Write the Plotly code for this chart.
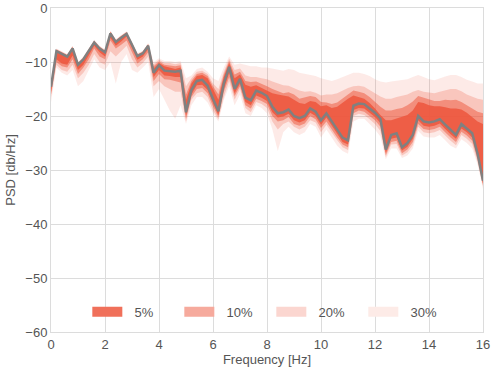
import plotly.graph_objects as go

freq = [round(0.2 * i, 1) for i in range(81)]

psd = [-14.6, -8.0, -8.5, -9.0, -7.5, -10.5, -9.5, -8.0, -6.4, -7.5,
       -8.2, -4.7, -6.3, -5.5, -4.8, -6.8, -8.9, -8.4, -7.0, -12.0,
       -10.6, -11.6, -11.7, -11.8, -11.6, -19.3, -15.2, -13.5, -13.3, -14.4,
       -16.8, -19.1, -14.0, -10.9, -15.0, -13.1, -16.6, -17.1, -15.3, -15.7,
       -16.3, -18.3, -19.5, -19.3, -18.8, -20.0, -20.4, -20.0, -18.6, -19.2,
       -20.8, -19.5, -21.0, -22.5, -24.0, -24.5, -18.1, -17.7, -17.8, -18.6,
       -19.4, -20.5, -26.2, -23.5, -23.2, -25.8, -25.0, -23.5, -20.0, -21.0,
       -21.2, -21.0, -20.6, -21.6, -22.6, -23.5, -21.5, -22.3, -23.2, -27.0,
       -32.0]

# Band bounds (dB)
up5 = [-14.4, -7.8, -8.3, -8.8, -7.3, -10.3, -9.3, -7.8, -6.2, -7.3,
       -8.0, -4.5, -6.1, -5.3, -4.6, -6.6, -8.7, -8.2, -6.8, -11.2,
       -10.2, -10.8, -11.0, -11.3, -11.0, -17.0, -14.0, -12.6, -12.4, -13.0,
       -15.0, -17.0, -12.8, -10.2, -13.0, -12.3, -14.2, -14.6, -14.3, -14.8,
       -15.2, -15.8, -16.0, -16.2, -16.4, -17.0, -17.6, -17.8, -17.2, -17.4,
       -18.2, -18.0, -18.5, -18.3, -17.5, -16.8, -16.2, -16.5, -16.8, -17.6,
       -18.6, -19.8, -20.8, -20.8, -20.5, -20.2, -19.8, -19.0, -17.4, -17.6,
       -18.0, -18.2, -18.2, -18.4, -18.6, -18.6, -18.8, -19.4, -20.2, -21.0,
       -21.5]
lo5 = [-15.5, -9.5, -10.3, -10.5, -8.8, -11.5, -10.5, -8.8, -7.0, -8.2,
       -9.0, -5.5, -7.0, -6.2, -5.3, -7.5, -9.6, -9.0, -7.6, -12.8,
       -11.5, -12.5, -12.6, -12.8, -12.8, -20.0, -16.0, -14.3, -14.2, -15.2,
       -17.6, -19.8, -15.0, -12.0, -15.8, -14.0, -17.4, -18.0, -16.2, -16.6,
       -17.2, -19.3, -20.3, -20.1, -19.6, -20.8, -21.2, -20.8, -19.4, -20.0,
       -21.6, -20.3, -21.8, -23.3, -24.8, -25.3, -18.9, -18.5, -18.6, -19.4,
       -20.2, -21.3, -26.8, -24.2, -24.0, -26.4, -25.7, -24.2, -20.8, -21.8,
       -22.0, -21.8, -21.4, -22.4, -23.4, -24.2, -22.3, -23.0, -24.0, -27.6,
       -32.5]
up10 = [-14.3, -7.7, -8.2, -8.7, -7.2, -10.2, -9.2, -7.7, -6.1, -7.2,
        -7.9, -4.4, -6.0, -5.2, -4.5, -6.5, -8.6, -8.1, -6.7, -10.8,
        -9.9, -10.5, -10.6, -10.8, -10.6, -16.0, -13.5, -12.2, -12.0, -12.6,
        -14.5, -16.0, -12.3, -9.8, -12.3, -11.8, -13.5, -13.7, -13.6, -14.0,
        -14.5, -15.0, -15.4, -15.8, -15.6, -16.0, -16.8, -16.6, -16.3, -16.5,
        -17.4, -17.5, -17.8, -17.5, -16.8, -16.0, -15.3, -15.5, -15.8, -16.5,
        -17.4, -18.3, -19.0, -19.0, -18.7, -18.5, -18.0, -17.3, -16.3, -16.6,
        -17.0, -17.2, -17.2, -17.0, -17.1, -17.0, -17.4, -18.0, -18.6, -19.2,
        -19.5]
lo10 = [-16.0, -10.0, -10.8, -11.0, -9.5, -12.2, -11.0, -9.5, -7.5, -9.0,
        -9.5, -6.0, -7.5, -6.8, -6.0, -8.2, -10.3, -9.5, -8.2, -13.5,
        -12.2, -13.2, -13.3, -13.5, -13.8, -20.5, -16.5, -15.0, -14.8, -15.8,
        -18.2, -20.2, -15.5, -12.8, -16.3, -14.5, -18.0, -18.6, -16.8, -17.2,
        -17.8, -20.0, -21.0, -20.8, -20.2, -21.5, -21.8, -21.4, -20.0, -20.6,
        -22.2, -21.0, -22.4, -24.0, -25.3, -25.8, -19.5, -19.0, -19.2, -20.0,
        -20.8, -22.0, -27.2, -24.8, -24.6, -26.9, -26.2, -24.8, -21.5, -22.4,
        -22.6, -22.4, -22.0, -23.0, -24.0, -24.8, -22.9, -23.6, -24.6, -28.0,
        -32.8]
up20 = [-14.2, -7.6, -8.1, -8.6, -7.1, -10.1, -9.1, -7.6, -6.0, -7.1,
        -7.8, -4.3, -5.9, -5.1, -4.4, -6.4, -8.5, -8.0, -6.6, -10.4,
        -9.6, -10.2, -10.2, -10.4, -10.2, -14.5, -13.0, -11.8, -11.6, -12.2,
        -14.0, -15.0, -11.8, -9.4, -11.5, -11.2, -12.5, -12.8, -12.8, -13.0,
        -13.2, -13.6, -14.0, -14.3, -14.4, -14.8, -15.3, -15.5, -15.4, -15.7,
        -16.2, -16.0, -16.0, -15.8, -15.3, -14.8, -14.5, -14.4, -14.6, -15.2,
        -15.8, -16.4, -16.8, -16.8, -16.5, -16.2, -16.0, -15.5, -15.2, -15.5,
        -15.7, -15.8, -15.5, -15.2, -15.0, -15.0, -15.4, -16.0, -16.4, -16.8,
        -17.0]
lo20 = [-16.5, -10.5, -11.5, -11.8, -10.5, -13.0, -12.0, -10.5, -8.5, -10.0,
        -10.5, -8.0, -9.0, -8.0, -7.0, -9.5, -11.0, -10.2, -9.0, -14.5,
        -13.5, -14.5, -15.0, -15.5, -15.5, -21.0, -17.0, -15.8, -15.5, -16.5,
        -19.0, -20.6, -16.5, -13.5, -17.0, -15.0, -18.5, -19.3, -17.4, -17.8,
        -18.5, -21.0, -22.5, -21.5, -21.0, -22.0, -22.5, -22.0, -20.8, -21.2,
        -23.0, -21.6, -23.0, -24.5, -25.8, -26.3, -20.0, -19.6, -19.8, -20.6,
        -21.5, -22.8, -27.6, -25.3, -25.2, -27.3, -26.7, -25.4, -22.0, -23.0,
        -23.2, -23.0, -22.6, -23.6, -24.6, -25.4, -23.5, -24.2, -25.2, -28.5,
        -33.0]
up30 = [-14.1, -7.5, -8.0, -8.5, -7.0, -10.0, -9.0, -7.5, -5.9, -7.0,
        -7.7, -4.2, -5.8, -5.0, -4.3, -6.3, -8.4, -7.9, -6.5, -10.0,
        -9.3, -9.8, -9.8, -10.0, -9.8, -13.0, -12.5, -11.3, -11.0, -11.8,
        -13.0, -13.5, -11.0, -9.0, -10.5, -10.3, -10.6, -10.8, -10.8, -11.0,
        -11.0, -11.2, -11.5, -11.6, -11.3, -11.5, -12.0, -12.2, -12.4, -12.6,
        -13.0, -13.3, -13.5, -13.2, -12.8, -12.3, -12.0, -12.0, -12.2, -12.6,
        -13.2, -13.6, -13.8, -13.6, -13.5, -13.3, -13.2, -12.8, -12.4, -12.8,
        -13.2, -13.4, -13.0, -12.7, -12.4, -12.4, -12.8, -13.3, -13.6, -14.0,
        -14.0]
lo30 = [-17.5, -11.0, -12.0, -12.5, -11.5, -14.5, -13.5, -11.5, -9.5, -11.0,
        -11.5, -10.0, -14.0, -10.0, -8.5, -11.5, -12.0, -11.0, -10.0, -16.5,
        -15.0, -17.0, -19.0, -20.5, -18.0, -21.5, -18.0, -16.5, -16.5, -17.5,
        -19.5, -21.0, -17.0, -14.5, -18.0, -16.0, -19.5, -20.0, -18.0, -18.5,
        -19.5, -22.5, -26.5, -23.0, -22.0, -23.0, -23.5, -23.0, -21.5, -22.0,
        -24.0, -22.5, -24.0, -25.5, -26.5, -27.0, -21.0, -20.5, -20.5, -21.5,
        -22.5, -23.8, -28.0, -26.0, -26.0, -27.8, -27.3, -26.0, -22.8, -23.8,
        -24.0, -24.0, -23.5, -24.5, -25.5, -26.0, -24.3, -25.0, -26.0, -29.0,
        -33.5]

band_names = ["30%", "20%", "10%", "5%"]
band_upper = [up30, up20, up10, up5]
band_lower = [lo30, lo20, lo10, lo5]
band_alpha = [0.12, 0.24, 0.5, 0.84]
band_rank = [4, 3, 2, 1]
base = (237, 85, 59)


def rgba(a):
    return f"rgba({base[0]},{base[1]},{base[2]},{a})"


def solid(a):
    r, g, b = (round(255 - a * (255 - c)) for c in base)
    return f"rgb({r},{g},{b})"


fig = go.Figure()
for name, up, lo, a, rk in zip(band_names, band_upper, band_lower, band_alpha, band_rank):
    fig.add_trace(go.Scatter(
        x=freq + freq[::-1], y=up + lo[::-1],
        fill="toself", fillcolor=rgba(a),
        line=dict(width=0), mode="lines", name=name, showlegend=False,
        hoverinfo="skip"))

fig.add_trace(go.Scatter(x=freq, y=psd, mode="lines",
                         line=dict(color="#808080", width=2.5),
                         showlegend=False))

# legend entries (solid swatches)
for name, a, rk in zip(band_names, band_alpha, band_rank):
    fig.add_trace(go.Scatter(
        x=[None], y=[None], mode="lines",
        line=dict(color=solid(a), width=10), name="\u00a0\u00a0" + name, legendrank=rk))

grid = "#dcdcdc"
fig.update_layout(
    width=491, height=369,
    margin=dict(l=51, r=8, t=8, b=37),
    paper_bgcolor="white", plot_bgcolor="white",
    font=dict(family="Liberation Sans, Arial", size=13, color="#555555"),
    legend=dict(orientation="h", x=0.51, xanchor="center", y=0.062, yanchor="middle",
                bgcolor="rgba(0,0,0,0)", font=dict(size=13, color="#555555"),
                itemwidth=30, entrywidth=47, entrywidthmode="pixels"),
    xaxis=dict(range=[0, 16], dtick=2, showgrid=True, gridcolor=grid, gridwidth=1,
               zeroline=False, showline=True, linecolor=grid, mirror=True,
               ticks="", automargin=False,
               title=dict(text="Frequency [Hz]", standoff=1, font=dict(size=13))),
    yaxis=dict(range=[-60, 0], dtick=10, showgrid=True, gridcolor=grid, gridwidth=1,
               zeroline=False, showline=True, linecolor=grid, mirror=True,
               ticks="", automargin=False,
               title=dict(text="PSD [db/Hz]", standoff=6, font=dict(size=13))),
)

fig.write_html("out.html")
